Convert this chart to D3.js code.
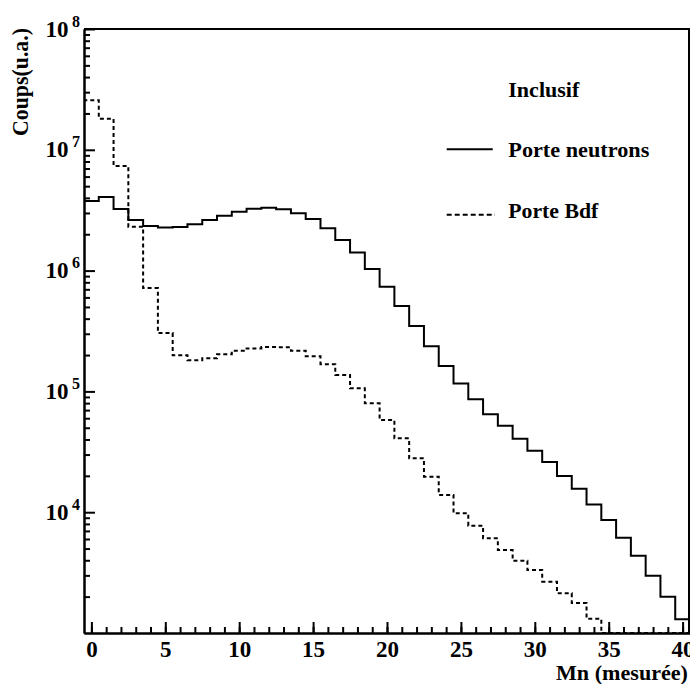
<!DOCTYPE html>
<html>
<head>
<meta charset="utf-8">
<script src="https://cdn.jsdelivr.net/npm/d3@7"></script>
<style>
body { margin: 0; background: #fff; }
svg text { font-family: "Times New Roman", Times, "Liberation Serif", serif; font-weight: bold; fill: #000; }
</style>
</head>
<body>
<script>
var width = 690, height = 684;

// bins 0..40, one per integer value of Mn
var bins = d3.range(0, 41);

// Porte neutrons (solid)
var porteNeutrons = [3.77e6, 4.07e6, 3.24e6, 2.62e6, 2.34e6, 2.27e6, 2.30e6, 2.42e6, 2.62e6, 2.85e6,
  3.07e6, 3.25e6, 3.32e6, 3.22e6, 2.98e6, 2.67e6, 2.24e6, 1.79e6, 1.41e6, 1.03e6,
  7.36e5, 5.09e5, 3.48e5, 2.36e5, 1.62e5, 1.16e5, 8.60e4, 6.46e4, 5.20e4, 4.06e4,
  3.23e4, 2.60e4, 1.99e4, 1.56e4, 1.16e4, 8.62e3, 6.15e3, 4.36e3, 2.98e3, 2.00e3,
  1.30e3];

// Porte Bdf (dashed)
var porteBdf = [2.57e7, 1.81e7, 7.35e6, 2.31e6, 7.18e5, 3.04e5, 1.99e5, 1.81e5, 1.88e5, 2.03e5,
  2.17e5, 2.27e5, 2.33e5, 2.32e5, 2.17e5, 1.95e5, 1.68e5, 1.37e5, 1.06e5, 7.97e4,
  5.80e4, 4.09e4, 2.79e4, 1.97e4, 1.39e4, 9.79e3, 7.73e3, 6.08e3, 4.86e3, 3.97e3,
  3.32e3, 2.66e3, 2.13e3, 1.77e3, 1.31e3, 900, 800, 700, 600, 500,
  400];

var xMajor = d3.range(0, 41, 5);
var xMinor = d3.range(0, 41, 1);
var yExponents = [4, 5, 6, 7, 8];

var svg = d3.select("body").append("svg")
  .attr("width", width)
  .attr("height", height);

var x = d3.scaleLinear().domain([-0.5, 40.5]).range([84, 690]);
var y = d3.scaleLog().domain([1e3, 1e8]).range([633, 29]).clamp(true);

svg.append("defs").append("clipPath").attr("id", "plotclip")
  .append("rect")
  .attr("x", x(-0.5)).attr("y", y(1e8))
  .attr("width", x(40.5) - x(-0.5)).attr("height", y(1e3) - y(1e8));

// histogram outline as a step path
function histPoints(vals) {
  var pts = [[-0.5, 1e3]];
  bins.forEach(function(b, i) {
    pts.push([b - 0.5, vals[i]]);
    pts.push([b + 0.5, vals[i]]);
  });
  pts.push([40.5, 1e3]);
  return pts;
}
var line = d3.line().x(function(d) { return x(d[0]); }).y(function(d) { return y(d[1]); });

var plot = svg.append("g").attr("clip-path", "url(#plotclip)");
plot.append("path")
  .attr("d", line(histPoints(porteNeutrons)))
  .attr("fill", "none").attr("stroke", "#000").attr("stroke-width", 2);
plot.append("path")
  .attr("d", line(histPoints(porteBdf)))
  .attr("fill", "none").attr("stroke", "#000").attr("stroke-width", 2)
  .attr("stroke-dasharray", "4,3");

// frame
svg.append("line").attr("x1", x(-0.5)).attr("x2", x(40.5)).attr("y1", y(1e8)).attr("y2", y(1e8))
  .attr("stroke", "#000").attr("stroke-width", 2);
svg.append("line").attr("x1", x(40.5) - 1).attr("x2", x(40.5) - 1).attr("y1", y(1e8)).attr("y2", y(1e3))
  .attr("stroke", "#000").attr("stroke-width", 2);

// x axis
var xAxisMinor = d3.axisBottom(x).tickValues(xMinor).tickSize(-6).tickSizeOuter(0).tickFormat("");
var xAxis = d3.axisBottom(x).tickValues(xMajor).tickSize(-11).tickSizeOuter(0).tickPadding(8);
svg.append("g").attr("transform", "translate(0," + y(1e3) + ")").call(xAxisMinor);
var gx = svg.append("g").attr("transform", "translate(0," + y(1e3) + ")").call(xAxis);
gx.attr("font-family", null).attr("font-size", null);
gx.selectAll("text").attr("font-size", 23);

// y axis
var yMinorVals = [];
for (var e = 3; e < 8; e++) {
  for (var m = 2; m <= 9; m++) yMinorVals.push(m * Math.pow(10, e));
}
var yAxisMinor = d3.axisLeft(y).tickValues(yMinorVals).tickSize(-6).tickSizeOuter(0).tickFormat("");
var yAxis = d3.axisLeft(y).tickValues(yExponents.map(function(e) { return Math.pow(10, e); }))
  .tickSize(-11).tickSizeOuter(0).tickFormat("");
svg.append("g").attr("transform", "translate(" + x(-0.5) + ",0)").call(yAxisMinor);
svg.append("g").attr("transform", "translate(" + x(-0.5) + ",0)").call(yAxis);

svg.selectAll(".domain, .tick line").attr("stroke", "#000").attr("stroke-width", 2);

yExponents.forEach(function(e) {
  var yy = y(Math.pow(10, e));
  svg.append("text").attr("x", 68.5).attr("y", yy + 7.5)
    .attr("text-anchor", "end").attr("font-size", 23).text("10");
  svg.append("text").attr("x", 72).attr("y", yy - 2.5)
    .attr("font-size", 16).text(e);
});

// axis titles
svg.append("text")
  .attr("transform", "translate(28,28) rotate(-90)")
  .attr("text-anchor", "end").attr("font-size", 23)
  .attr("textLength", 108).attr("lengthAdjust", "spacingAndGlyphs")
  .text("Coups(u.a.)");
svg.append("text")
  .attr("x", 556).attr("y", 680).attr("font-size", 20)
  .attr("textLength", 132).attr("lengthAdjust", "spacingAndGlyphs")
  .text("Mn (mesurée)");

// legend
function writeText(text, tx, ty, len) {
  svg.append("text").attr("x", tx).attr("y", ty).attr("font-size", 20)
    .attr("textLength", len).attr("lengthAdjust", "spacingAndGlyphs")
    .text(text);
}
writeText("Inclusif", 508.3, 96.7, 71);
writeText("Porte neutrons", 508.3, 156.5, 141);
writeText("Porte Bdf", 508.3, 218.3, 90);

svg.append("line").attr("x1", 446.7).attr("x2", 492.7).attr("y1", 149.3).attr("y2", 149.3)
  .attr("stroke", "#000").attr("stroke-width", 2);
svg.append("line").attr("x1", 446.7).attr("x2", 495).attr("y1", 214.7).attr("y2", 214.7)
  .attr("stroke", "#000").attr("stroke-width", 2).attr("stroke-dasharray", "5,3");
</script>
</body>
</html>
